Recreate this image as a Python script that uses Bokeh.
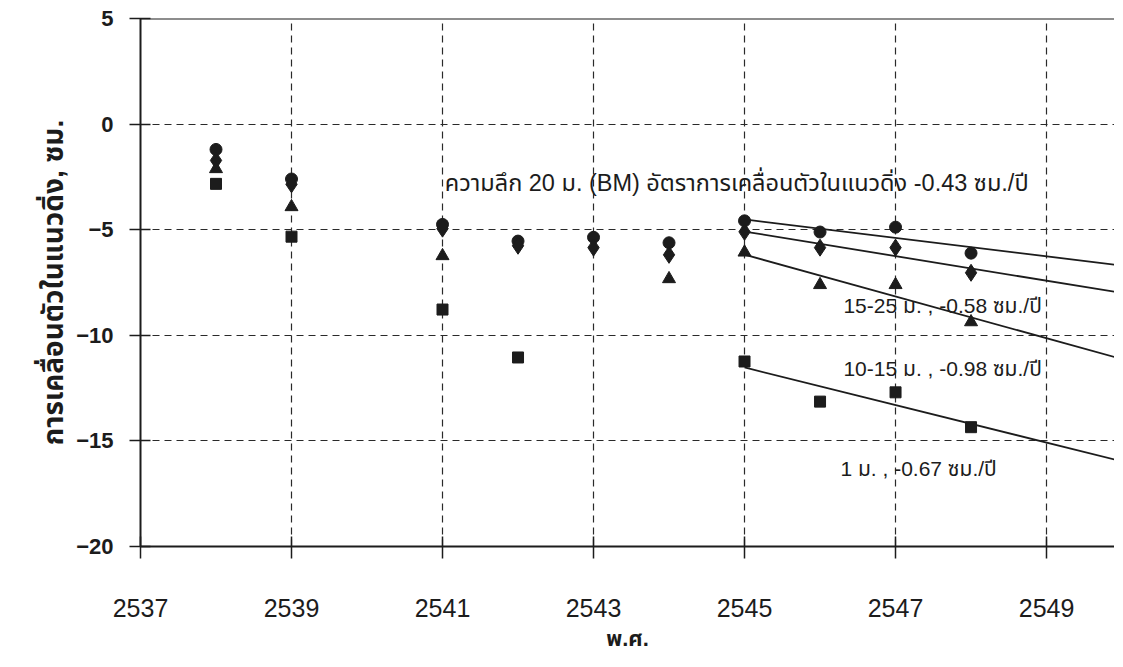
import numpy as np
from bokeh.plotting import figure
from bokeh.models import FixedTicker, Label, Span
from bokeh.embed import file_html
from bokeh.resources import INLINE

# ---- data ----
years = [2538, 2539, 2541, 2542, 2543, 2544, 2545, 2546, 2547, 2548]
depth_20m = [-1.20, -2.60, -4.75, -5.54, -5.36, -5.62, -4.58, -5.11, -4.88, -6.11]
depth_15_25m = [-1.72, -2.85, -4.95, -5.76, -5.85, -6.19, -5.10, -5.85, -5.85, -7.04]
depth_10_15m = [-2.12, -3.92, -6.24, np.nan, np.nan, -7.33, -6.07, -7.61, -7.61, -9.37]
depth_1m = [-2.83, -5.33, -8.78, -11.05, np.nan, np.nan, -11.24, -13.14, -12.70, -14.35]

trend_from = 2545
trend_to = 2550

x_ticks = [2537, 2539, 2541, 2543, 2545, 2547, 2549]
y_ticks = [-20, -15, -10, -5, 0, 5]

series_labels = [
    "ความลึก 20 ม. (BM) อัตราการเคลื่อนตัวในแนวดิ่ง -0.43 ซม./ปี",
    "15-25 ม. , -0.58 ซม./ปี",
    "10-15 ม. , -0.98 ซม./ปี",
    "1 ม. , -0.67 ซม./ปี",
]

FONT = "'Liberation Sans', 'Noto Sans Thai', 'Noto Sans', sans-serif"
INK = "#1c1c1c"

p = figure(width=1114, height=658, output_backend="svg", toolbar_location=None,
           x_range=(2537, 2549.9), y_range=(-20, 5),
           min_border_left=140, min_border_right=0, min_border_top=18,
           min_border_bottom=112)
p.outline_line_color = None
p.background_fill_color = "white"

# axes
for ax in (p.xaxis[0], p.yaxis[0]):
    ax.axis_line_color = INK
    ax.axis_line_width = 2
    ax.major_tick_line_color = INK
    ax.major_tick_line_width = 1.5
    ax.minor_tick_line_color = None
    ax.major_label_text_color = INK
    ax.major_label_text_font = FONT

p.xaxis.ticker = FixedTicker(ticks=x_ticks)
p.yaxis.ticker = FixedTicker(ticks=y_ticks)
p.xaxis.major_tick_in = 10
p.xaxis.major_tick_out = 12
p.yaxis.major_tick_in = 10
p.yaxis.major_tick_out = 11
p.xaxis.major_label_text_font_size = "25px"
p.xaxis.major_label_standoff = 40
p.yaxis.major_label_text_font_size = "22px"
p.yaxis.major_label_text_font_style = "bold"
p.yaxis.major_label_standoff = 16

p.yaxis.axis_label = "การเคลื่อนตัวในแนวดิ่ง, ซม."
p.yaxis.axis_label_text_font = FONT
p.yaxis.axis_label_text_font_size = "28px"
p.yaxis.axis_label_text_font_style = "bold"
p.yaxis.axis_label_text_color = INK
p.yaxis.axis_label_standoff = 4

p.xaxis.axis_label = "พ.ศ."
p.xaxis.axis_label_text_font = FONT
p.xaxis.axis_label_text_font_size = "22px"
p.xaxis.axis_label_text_font_style = "bold"
p.xaxis.axis_label_text_color = INK
p.xaxis.axis_label_standoff = 6

# grid
for g in (p.xgrid[0], p.ygrid[0]):
    g.grid_line_color = "#2a2a2a"
    g.grid_line_dash = "7 5"
    g.grid_line_width = 1.2

# top frame border
p.add_layout(Span(location=5, dimension="width", line_color=INK, line_width=2))

def valid(xs, ys):
    xs = np.asarray(xs, dtype=float)
    ys = np.asarray(ys, dtype=float)
    m = ~np.isnan(ys)
    return xs[m], ys[m]

series = [
    (depth_20m, "circle", 12),
    (depth_15_25m, "diamond", 17),
    (depth_10_15m, "triangle", 13),
    (depth_1m, "square", 11),
]

for ys, marker, size in series:
    xs, yv = valid(years, ys)
    # trend line (least squares on the recent years, extended forward)
    m = xs >= trend_from
    slope, intercept = np.polyfit(xs[m], yv[m], 1)
    tx = np.array([trend_from, trend_to], dtype=float)
    p.line(tx, slope * tx + intercept, line_color=INK, line_width=1.8)
    p.scatter(xs, yv, marker=marker, size=size, fill_color=INK, line_color=INK)

# series annotations
label_pos = [(2541.03, -2.80), (2546.31, -8.60), (2546.31, -11.58), (2546.27, -16.29)]
label_size = ["23.5px", "21px", "21px", "21px"]
for txt, (lx, ly), fs in zip(series_labels, label_pos, label_size):
    p.add_layout(Label(x=lx, y=ly, text=txt, text_font=FONT, text_font_size=fs,
                       text_color=INK, text_align="left", text_baseline="alphabetic"))

open("out.html", "w").write(file_html(p, INLINE))
